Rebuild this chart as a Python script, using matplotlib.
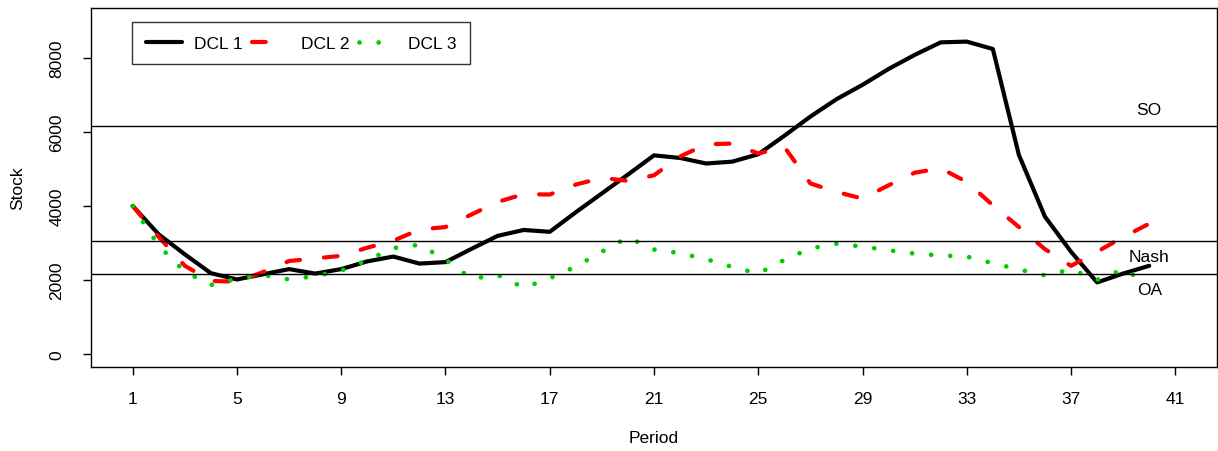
import matplotlib
matplotlib.use("Agg")
import matplotlib.pyplot as plt
import numpy as np

# ---- data ----
periods = list(range(1, 41))
dcl1 = [4000, 3230, 2690, 2180, 2010, 2150, 2290, 2170, 2290, 2500,
        2630, 2440, 2480, 2840, 3190, 3350, 3300, 3830, 4340, 4850,
        5370, 5300, 5150, 5200, 5400, 5900, 6420, 6890, 7280, 7710,
        8090, 8430, 8450, 8250, 5380, 3710, 2760, 1930, 2170, 2380]
dcl2 = [4000, 3160, 2380, 1970, 1950, 2210, 2510, 2580, 2650, 2870,
        3060, 3360, 3430, 3770, 4110, 4320, 4310, 4580, 4760, 4680,
        4830, 5340, 5670, 5690, 5420, 5600, 4610, 4380, 4200, 4560,
        4900, 5020, 4650, 4020, 3430, 2830, 2380, 2760, 3160, 3520]
dcl3 = [4000, 2920, 2220, 1860, 2030, 2130, 2010, 2100, 2250, 2530,
        2860, 2950, 2550, 2030, 2130, 1790, 2040, 2360, 2760, 3150,
        2820, 2720, 2560, 2350, 2170, 2540, 2850, 2980, 2900, 2800,
        2710, 2660, 2630, 2450, 2280, 2120, 2280, 2000, 2280, 1900]
series_names = ["DCL 1", "DCL 2", "DCL 3"]
ref_names = ["SO", "Nash", "OA"]
ref_values = [6170, 3040, 2160]
ref_label_offsets = [430, -420, -410]
xticks = list(range(1, 42, 4))
yticks = [0, 2000, 4000, 6000, 8000]

# ---- style ----
plt.rcParams['font.family'] = ['Liberation Sans', 'DejaVu Sans']
plt.rcParams['lines.scale_dashes'] = False
FS = 12.5

fig = plt.figure(figsize=(12.18, 4.52), dpi=100)
W, H = 1218, 452
ax = fig.add_axes([91 / W, 1 - 368 / H, 1126 / W, 359 / H])

ax.plot(periods, dcl1, color='black', lw=3.0, solid_capstyle='round',
        solid_joinstyle='round', label=series_names[0])
ax.plot(periods, dcl2, color='#FF0000', lw=3.0, linestyle=(0, (9.9, 17.3)),
        dash_capstyle='round', dash_joinstyle='round', label=series_names[1])
ax.plot(periods, dcl3, color='#00CD00', lw=3.4, linestyle=(0, (0.05, 13.7)),
        dash_capstyle='round', label=series_names[2])

for name, val, off in zip(ref_names, ref_values, ref_label_offsets):
    ax.axhline(val, color='black', lw=1.0)
    ax.text(40, val + off, name, ha='center', va='center', fontsize=FS)

ax.set_xlim(-0.6, 42.6)
ax.set_ylim(-360, 9360)
ax.set_xticks(xticks)
ax.set_yticks(yticks)
ax.set_xticklabels([str(t) for t in xticks])
ax.set_yticklabels([str(t) for t in yticks])
ax.tick_params(axis='both', direction='out', length=6, width=1.0, labelsize=FS)
ax.tick_params(axis='x', pad=11.5)
ax.tick_params(axis='y', pad=13, labelrotation=90)
for lbl in ax.get_yticklabels():
    lbl.set_va('center')
for s in ax.spines.values():
    s.set_linewidth(1.0)

ax.set_xlabel('Period', fontsize=FS, va='center')
ax.xaxis.set_label_coords(0.5, (368 - 439) / 359)
ax.set_ylabel('Stock', fontsize=FS, va='center')
ax.yaxis.set_label_coords((18 - 91) / 1126, 0.5)

leg = ax.legend(loc='upper left', bbox_to_anchor=((132 - 91) / 1126, (368 - 23) / 359),
                ncol=3, fontsize=FS, frameon=True, fancybox=False,
                handlelength=2.1, handletextpad=0.7, columnspacing=0.55,
                borderpad=0.78, borderaxespad=0.0)
leg.get_frame().set_edgecolor('black')
leg.get_frame().set_linewidth(1.0)

fig.savefig('out.png', dpi=100)
